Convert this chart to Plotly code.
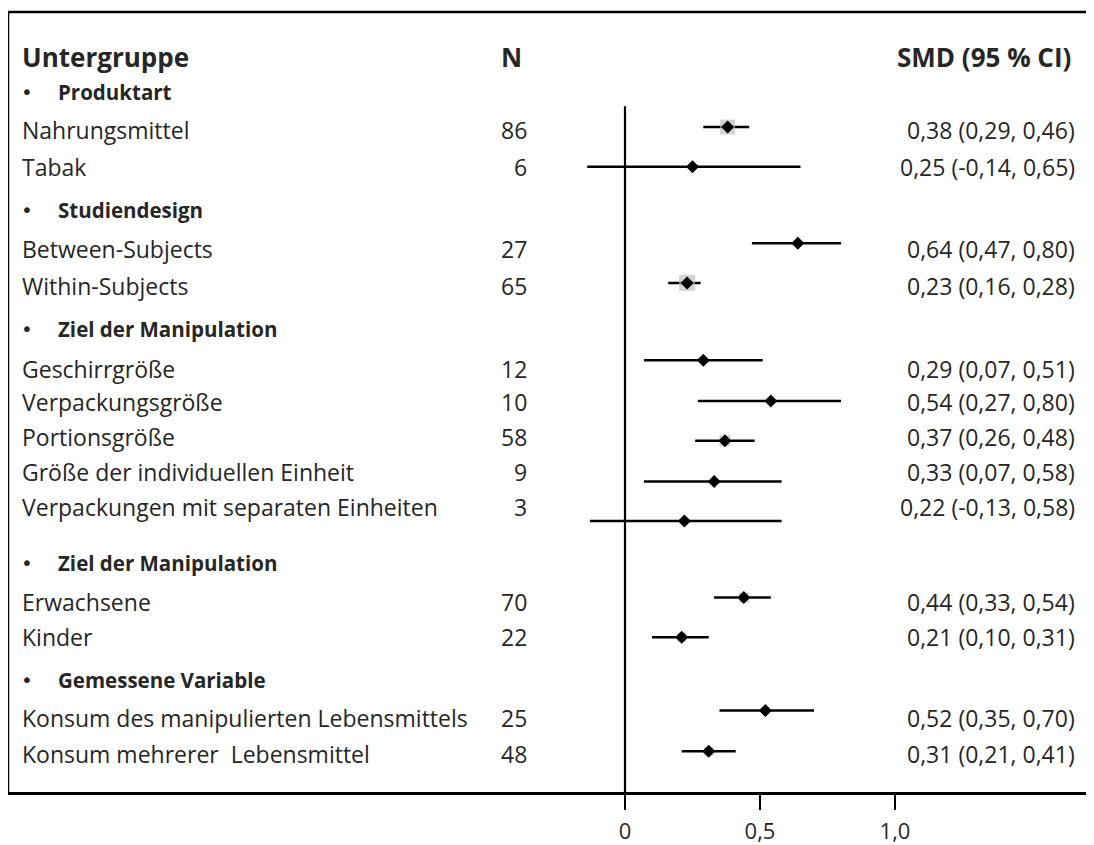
import plotly.graph_objects as go

# ---------------- data ----------------
section_titles = ["Produktart", "Studiendesign", "Ziel der Manipulation",
                  "Ziel der Manipulation", "Gemessene Variable"]
subgroups = ["Nahrungsmittel", "Tabak",
             "Between-Subjects", "Within-Subjects",
             "Geschirrgröße", "Verpackungsgröße", "Portionsgröße",
             "Größe der individuellen Einheit", "Verpackungen mit separaten Einheiten",
             "Erwachsene", "Kinder",
             "Konsum des manipulierten Lebensmittels", "Konsum mehrerer  Lebensmittel"]
n_values = [86, 6, 27, 65, 12, 10, 58, 9, 3, 70, 22, 25, 48]
smd = [0.38, 0.25, 0.64, 0.23, 0.29, 0.54, 0.37, 0.33, 0.22, 0.44, 0.21, 0.52, 0.31]
ci_low = [0.29, -0.14, 0.47, 0.16, 0.07, 0.27, 0.26, 0.07, -0.13, 0.33, 0.10, 0.35, 0.21]
ci_high = [0.46, 0.65, 0.80, 0.28, 0.51, 0.80, 0.48, 0.58, 0.58, 0.54, 0.31, 0.70, 0.41]
weights = [15, 3, 4, 16, 4, 3, 11, 3, 2, 10, 9, 7, 9]
tick_vals = [0, 0.5, 1.0]
tick_text = ["0", "0,5", "1,0"]

# ---------------- layout (screen pixel rows) ----------------
PAGE_W, PAGE_H = 1094, 845
BODY = 8                      # default page body margin
W, H = PAGE_W - BODY, PAGE_H - BODY
TOP, BOTTOM = 12, 798         # screen y of box top / axis line
section_text_y = [93, 212, 331, 567, 685]
subgroup_text_y = [131, 168, 251, 288, 372, 405, 440, 476, 511, 607, 642, 723, 760]
mark_y = [128, 168, 245, 285, 363, 404, 444, 485, 525, 602, 642, 716, 757]

PX_PER_UNIT = 270.0
ZERO_PX = 625.0
xmin = -(ZERO_PX - BODY) / PX_PER_UNIT
xmax = xmin + W / PX_PER_UNIT


def px(xs):
    return (xs - BODY) / W


def fmt(v):
    return f"{v:.2f}".replace(".", ",")


TXT = "#262626"
FONT = "Open Sans"

fig = go.Figure()

# CI lines
xs, ys = [], []
for lo, hi, y in zip(ci_low, ci_high, mark_y):
    xs += [lo, hi, None]
    ys += [y, y, None]
fig.add_trace(go.Scatter(x=xs, y=ys, mode="lines",
                         line=dict(color="black", width=2.5),
                         hoverinfo="skip", showlegend=False))
# weight boxes
fig.add_trace(go.Scatter(x=smd, y=mark_y, mode="markers",
                         marker=dict(symbol="square", size=weights,
                                     color="#c0c0c0", line=dict(width=0)),
                         showlegend=False))
# point estimates
fig.add_trace(go.Scatter(x=smd, y=mark_y, mode="markers",
                         marker=dict(symbol="diamond", size=10, color="black",
                                     line=dict(width=0)),
                         showlegend=False))

shapes = [
    dict(type="line", xref="x", yref="y", x0=0, x1=0, y0=107, y1=BOTTOM,
         line=dict(color="black", width=2.2)),
    dict(type="line", xref="paper", yref="y", x0=0, x1=0, y0=TOP, y1=BOTTOM,
         line=dict(color="black", width=2.5)),
    dict(type="line", xref="paper", yref="y", x0=0, x1=1.02, y0=TOP, y1=TOP,
         line=dict(color="black", width=2.5)),
]

ann = []


def add_text(x, y, text, size, bold=False, anchor="left", family=FONT):
    ann.append(dict(xref="paper", yref="y", x=px(x), y=y,
                    text=f"<b>{text}</b>" if bold else text,
                    showarrow=False, xanchor=anchor, yanchor="middle",
                    font=dict(family=family, size=size, color=TXT)))


add_text(20, 57, "Untergruppe", 26, bold=True)
add_text(499, 57, "N", 26, bold=True)
add_text(1073, 57, "SMD (95 % CI)", 26, bold=True, anchor="right")

for t, y in zip(section_titles, section_text_y):
    add_text(19, y, "•", 20, family="DejaVu Sans")
    add_text(56, y, t, 20.5, bold=True)

for name, n, m, lo, hi, y in zip(subgroups, n_values, smd, ci_low, ci_high, subgroup_text_y):
    add_text(20, y, name, 23)
    add_text(529, y, str(n), 23, anchor="right")
    add_text(1077, y, f"{fmt(m)} ({fmt(lo)}, {fmt(hi)})", 23, anchor="right")

fig.update_layout(
    width=W, height=H,
    margin=dict(l=0, r=0, t=0, b=PAGE_H - BOTTOM, pad=0),
    paper_bgcolor="white", plot_bgcolor="white",
    shapes=shapes, annotations=ann,
    separators=",.",
    xaxis=dict(range=[xmin, xmax], showgrid=False, zeroline=False,
               showline=True, linecolor="black", linewidth=2.5,
               ticks="outside", ticklen=15, tickwidth=2, tickcolor="black",
               tickvals=tick_vals, ticktext=tick_text,
               ticklabelstandoff=3,
               tickfont=dict(family=FONT, size=22, color=TXT)),
    yaxis=dict(range=[BOTTOM, BODY], showgrid=False, zeroline=False,
               showline=False, showticklabels=False, ticks=""),
)

fig.write_html("out.html")
